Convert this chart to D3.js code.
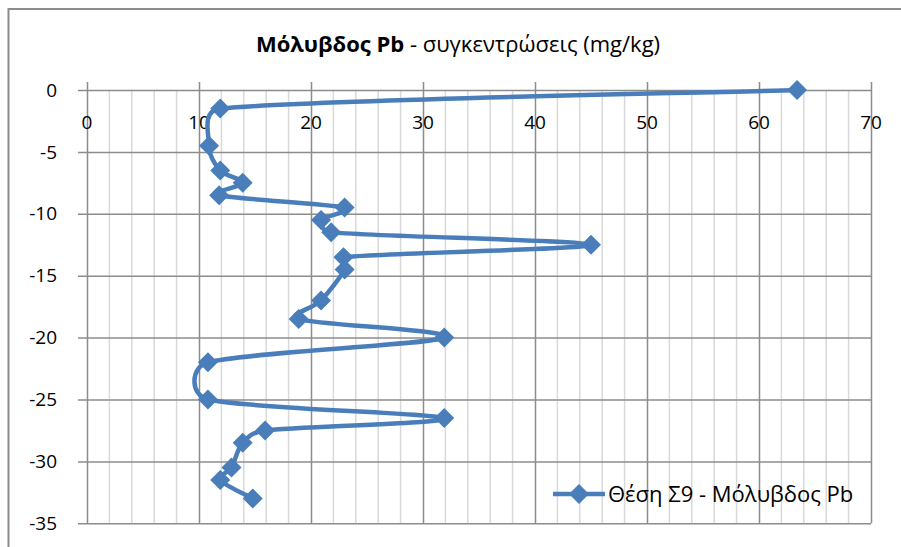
<!DOCTYPE html>
<html>
<head>
<meta charset="utf-8">
<script src="https://cdn.jsdelivr.net/npm/d3@7"></script>
<style>
  body { margin: 0; background: #fff; }
  text { font-family: "Open Sans", "Noto Sans", sans-serif; fill: #000; }
</style>
</head>
<body>
<script>
// depth (m) and lead concentration (mg/kg)
var depth = [0, -1.5, -4.5, -6.5, -7.5, -8.5, -9.5, -10.5, -11.5, -12.5, -13.5,
             -14.5, -17, -18.5, -20, -22, -25, -26.5, -27.5, -28.5, -30.5, -31.5, -33];
var lead = [63.4, 11.9, 10.9, 11.9, 13.9, 11.8, 23, 20.9, 21.8, 45, 22.9,
            23, 20.9, 18.9, 31.9, 10.8, 10.8, 31.9, 15.9, 13.9, 12.9, 11.9, 14.8];
var xTicks = [0, 10, 20, 30, 40, 50, 60, 70];
var yTicks = [0, -5, -10, -15, -20, -25, -30, -35];
var xMinor = [2, 4, 6, 8, 12, 14, 16, 18, 22, 24, 26, 28, 32, 34, 36, 38,
              42, 44, 46, 48, 52, 54, 56, 58, 62, 64, 66, 68];
var seriesName = "Θέση Σ9 - Μόλυβδος Pb";

var width = 901, height = 547;
var blue = "#4a7ebb";

var svg = d3.select("body").append("svg")
  .attr("width", width)
  .attr("height", height);

// chart frame (runs off the right and bottom of the picture)
svg.append("rect")
  .attr("x", 8.5).attr("y", 9)
  .attr("width", 1000).attr("height", 1000)
  .attr("fill", "white")
  .attr("stroke", "#8c8c8c")
  .attr("stroke-width", 2);

var x = d3.scaleLinear().domain([0, 70]).range([87, 871]);
var y = d3.scaleLinear().domain([-35, 0]).range([523.3, 90]);

// minor vertical gridlines
svg.append("g").selectAll("line")
  .data(xMinor).enter().append("line")
  .attr("x1", function(d) { return x(d); })
  .attr("x2", function(d) { return x(d); })
  .attr("y1", y(0)).attr("y2", y(-35))
  .attr("stroke", "#d9d9d9")
  .attr("stroke-width", 1.5);

// major gridlines, drawn as long axis ticks
svg.append("g")
  .attr("transform", "translate(" + x(70) + ",0)")
  .call(d3.axisLeft(y).tickValues(yTicks).tickSize(x(70) - x(0) + 9).tickFormat(""))
  .call(function(g) { g.select(".domain").remove(); })
  .selectAll("line").attr("stroke", "#8c8c8c").attr("stroke-width", 1.5);

svg.append("g")
  .attr("transform", "translate(0," + y(-35) + ")")
  .call(d3.axisBottom(x).tickValues(xTicks).tickSize(-(y(-35) - y(0)) - 8).tickFormat(""))
  .call(function(g) { g.select(".domain").remove(); })
  .selectAll("line").attr("stroke", "#8c8c8c").attr("stroke-width", 1.5);

// tick labels
svg.append("g").selectAll("text")
  .data(yTicks).enter().append("text")
  .attr("x", 57)
  .attr("y", function(d) { return y(d); })
  .attr("dy", "0.35em")
  .attr("text-anchor", "end")
  .style("font-size", "19px")
  .text(function(d) { return d; });

svg.append("g").selectAll("text")
  .data(xTicks).enter().append("text")
  .attr("x", function(d) { return x(d); })
  .attr("y", 122)
  .attr("dy", "0.35em")
  .attr("text-anchor", "middle")
  .style("font-size", "19px")
  .text(function(d) { return d; });

// series: smoothed like a spreadsheet line (Catmull-Rom arms, clamped to half a segment)
var pts = depth.map(function(d, i) { return [x(lead[i]), y(d)]; });

function smoothPath(p) {
  var path = d3.path();
  path.moveTo(p[0][0], p[0][1]);
  function arm(i, j, sign) {
    var a = p[Math.max(i - 1, 0)], b = p[Math.min(i + 1, p.length - 1)];
    var dx = (b[0] - a[0]) / 6 * sign, dy = (b[1] - a[1]) / 6 * sign;
    var seg = Math.hypot(p[j][0] - p[i][0], p[j][1] - p[i][1]);
    var len = Math.hypot(dx, dy), lim = seg * 0.5;
    if (len > lim && len > 0) { dx *= lim / len; dy *= lim / len; }
    return [p[i][0] + dx, p[i][1] + dy];
  }
  for (var i = 0; i < p.length - 1; i++) {
    var c1 = arm(i, i + 1, 1), c2 = arm(i + 1, i, -1);
    path.bezierCurveTo(c1[0], c1[1], c2[0], c2[1], p[i + 1][0], p[i + 1][1]);
  }
  return path.toString();
}

svg.append("path")
  .attr("d", smoothPath(pts))
  .attr("fill", "none")
  .attr("stroke", blue)
  .attr("stroke-width", 4.5)
  .attr("stroke-linejoin", "round");

function diamond(r) {
  return "M0," + (-r) + "L" + r + ",0L0," + r + "L" + (-r) + ",0Z";
}

svg.append("g").selectAll("path")
  .data(pts).enter().append("path")
  .attr("transform", function(d) { return "translate(" + d[0] + "," + d[1] + ")"; })
  .attr("d", diamond(10))
  .attr("fill", blue);

// title
var title = svg.append("text")
  .attr("x", 458).attr("y", 52)
  .attr("text-anchor", "middle")
  .style("font-size", "22px");
title.append("tspan").style("font-weight", "bold").text("Μόλυβδος Pb");
title.append("tspan").text(" - συγκεντρώσεις (mg/kg)");

// legend
var legend = svg.append("g").attr("transform", "translate(553,494)");
legend.append("line")
  .attr("x1", 0).attr("x2", 52)
  .attr("stroke", blue).attr("stroke-width", 4.5);
legend.append("path")
  .attr("transform", "translate(26,0)")
  .attr("d", diamond(10))
  .attr("fill", blue);
legend.append("text")
  .attr("x", 55).attr("y", 0)
  .attr("dy", "0.35em")
  .style("font-size", "22px")
  .text(seriesName);
</script>
</body>
</html>
